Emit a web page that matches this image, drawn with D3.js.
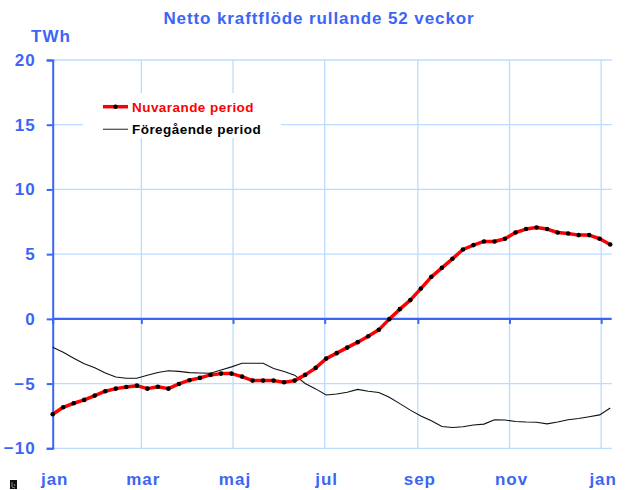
<!DOCTYPE html>
<html>
<head>
<meta charset="utf-8">
<script src="https://cdn.jsdelivr.net/npm/d3@7/dist/d3.min.js"></script>
<style>
  body { margin: 0; background: #fff; }
  svg { display: block; font-family: "Liberation Sans", Arial, sans-serif; }
</style>
</head>
<body>
<div id="chart"></div>
<script>
// rolling 52-week net power flow, TWh, one value per week
var nuvarande = [-7.37, -6.83, -6.52, -6.26, -5.93, -5.59, -5.39, -5.26, -5.16, -5.39,
  -5.24, -5.39, -5.03, -4.74, -4.56, -4.33, -4.23, -4.23, -4.46, -4.77,
  -4.77, -4.77, -4.90, -4.77, -4.33, -3.79, -3.07, -2.65, -2.22, -1.80,
  -1.34, -0.85, -0.02, 0.75, 1.45, 2.34, 3.25, 3.94, 4.64, 5.36,
  5.70, 5.98, 5.98, 6.19, 6.67, 6.94, 7.06, 6.94, 6.67, 6.60,
  6.47, 6.47, 6.19, 5.75];
var foregaende = [-2.20, -2.58, -3.05, -3.47, -3.77, -4.18, -4.49, -4.59, -4.59, -4.36,
  -4.15, -4.01, -4.06, -4.15, -4.18, -4.20, -3.95, -3.71, -3.43, -3.43,
  -3.43, -3.83, -4.06, -4.35, -4.99, -5.41, -5.88, -5.80, -5.67, -5.45,
  -5.59, -5.69, -6.06, -6.55, -7.05, -7.50, -7.87, -8.31, -8.39, -8.34,
  -8.20, -8.13, -7.80, -7.81, -7.93, -7.97, -7.99, -8.11, -7.97, -7.80,
  -7.70, -7.56, -7.42, -6.88];
var monthLabels = ["jan", "mar", "maj", "jul", "sep", "nov", "jan"];
var yTicks = [-10, -5, 0, 5, 10, 15, 20];

var start = new Date(2001, 0, 1);
var weeks = nuvarande.map(function (v, i) { return d3.timeDay.offset(start, 7 * i); });
var monthTicks = monthLabels.map(function (m, i) { return d3.timeMonth.offset(start, 2 * i); });

var blue = "#3b66f5";
var grid = "#bcdcff";

var width = 629, height = 490;
var svg = d3.select("#chart").append("svg")
  .attr("width", width)
  .attr("height", height);

var x = d3.scaleTime()
  .domain([start, new Date(2002, 0, 8)])
  .range([52.7, 611.7]);
var y = d3.scaleLinear()
  .domain([-10, 20])
  .range([448.3, 60]);

// grid
svg.append("g").selectAll("line.h")
  .data(yTicks.filter(function (t) { return t !== 0; }))
  .enter().append("line")
  .attr("x1", x.range()[0]).attr("x2", x.range()[1])
  .attr("y1", function (d) { return y(d); })
  .attr("y2", function (d) { return y(d); })
  .attr("stroke", grid).attr("stroke-width", 1.3);

svg.append("g").selectAll("line.v")
  .data(monthTicks.slice(1))
  .enter().append("line")
  .attr("x1", function (d) { return x(d); })
  .attr("x2", function (d) { return x(d); })
  .attr("y1", y(20)).attr("y2", y(-10))
  .attr("stroke", grid).attr("stroke-width", 1.3);

// legend background cuts through grid
svg.append("rect")
  .attr("x", 83).attr("y", 93).attr("width", 198).attr("height", 45)
  .attr("fill", "#fff");

// y axis
var yAxis = svg.append("g")
  .attr("transform", "translate(" + x.range()[0] + ",0)")
  .call(d3.axisLeft(y).tickValues(yTicks).tickSize(6).tickPadding(11));
yAxis.select(".domain").attr("stroke", blue).attr("stroke-width", 2);
yAxis.selectAll(".tick line").attr("stroke", blue).attr("stroke-width", 2);
yAxis.selectAll(".tick text")
  .attr("fill", blue)
  .attr("font-size", 17)
  .attr("font-weight", "bold")
  .attr("letter-spacing", 1)
  .attr("font-family", "Liberation Sans, Arial, sans-serif");

// zero line with month ticks
var xAxis = svg.append("g")
  .attr("transform", "translate(0," + y(0) + ")")
  .call(d3.axisBottom(x).tickValues(monthTicks).tickSize(5).tickFormat(""));
xAxis.select(".domain").attr("stroke", blue).attr("stroke-width", 2.2)
  .attr("d", "M" + x.range()[0] + ",0H" + x.range()[1]);
xAxis.selectAll(".tick line").attr("stroke", blue).attr("stroke-width", 2);

// month labels at the bottom
svg.append("g").selectAll("text")
  .data(monthTicks)
  .enter().append("text")
  .attr("x", function (d) { return x(d) + 2; })
  .attr("y", 485)
  .attr("text-anchor", "middle")
  .attr("fill", blue)
  .attr("font-size", 17)
  .attr("font-weight", "bold")
  .attr("letter-spacing", 1)
  .text(function (d, i) { return monthLabels[i]; });

// previous period
var line = d3.line()
  .x(function (d, i) { return x(weeks[i]); })
  .y(function (d) { return y(d); });

svg.append("path")
  .datum(foregaende)
  .attr("d", line)
  .attr("fill", "none")
  .attr("stroke", "#111")
  .attr("stroke-width", 1.1);

// current period
svg.append("path")
  .datum(nuvarande)
  .attr("d", line)
  .attr("fill", "none")
  .attr("stroke", "#ff0000")
  .attr("stroke-width", 3.5)
  .attr("stroke-linejoin", "round");

svg.append("g").selectAll("circle")
  .data(nuvarande)
  .enter().append("circle")
  .attr("cx", function (d, i) { return x(weeks[i]); })
  .attr("cy", function (d) { return y(d); })
  .attr("r", 2.3)
  .attr("fill", "#000");

// legend
var legend = svg.append("g");
legend.append("line")
  .attr("x1", 103).attr("x2", 128).attr("y1", 106.7).attr("y2", 106.7)
  .attr("stroke", "#ff0000").attr("stroke-width", 3.5);
legend.append("circle")
  .attr("cx", 115.5).attr("cy", 106.7).attr("r", 2.3).attr("fill", "#000");
legend.append("text")
  .attr("x", 132).attr("y", 111.5)
  .attr("fill", "#ff0000").attr("font-size", 13.5).attr("font-weight", "bold")
  .attr("letter-spacing", 0.45)
  .text("Nuvarande period");
legend.append("line")
  .attr("x1", 103).attr("x2", 128).attr("y1", 129.3).attr("y2", 129.3)
  .attr("stroke", "#555").attr("stroke-width", 1.3);
legend.append("text")
  .attr("x", 132).attr("y", 134)
  .attr("fill", "#000").attr("font-size", 13.5).attr("font-weight", "bold")
  .attr("letter-spacing", 0.45)
  .text("Föregående period");

// title and unit
svg.append("text")
  .attr("x", 319).attr("y", 24)
  .attr("text-anchor", "middle")
  .attr("fill", blue).attr("font-size", 17).attr("font-weight", "bold")
  .attr("letter-spacing", 0.9)
  .text("Netto kraftflöde rullande 52 veckor");
svg.append("text")
  .attr("x", 31).attr("y", 42)
  .attr("fill", blue).attr("font-size", 17).attr("font-weight", "bold")
  .attr("letter-spacing", 1)
  .text("TWh");

// small icon bottom left
svg.append("rect")
  .attr("x", 10).attr("y", 480).attr("width", 7).attr("height", 9)
  .attr("fill", "#111");
svg.append("path")
  .attr("d", "M12,482V487M12,487L15,488M14,484L15,486")
  .attr("stroke", "#aaa").attr("stroke-width", 0.8).attr("fill", "none");
</script>
</body>
</html>
